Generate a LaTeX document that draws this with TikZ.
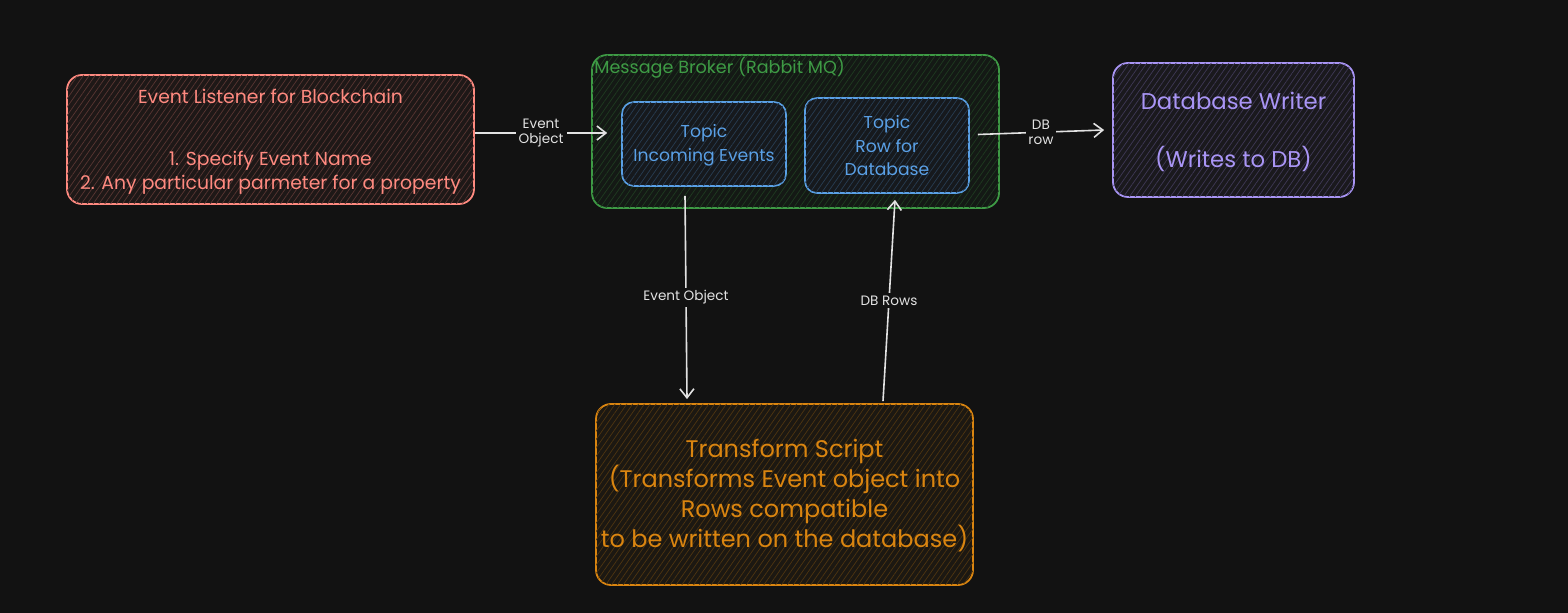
\documentclass[tikz,border=0pt]{standalone}
\usepackage{fontspec}
\setmainfont{Poppins}
\usetikzlibrary{arrows.meta,patterns.meta}
\definecolor{bg}{HTML}{121212}
\definecolor{cred}{HTML}{FF8A80}
\definecolor{cgreen}{HTML}{3E9B45}
\definecolor{cblue}{HTML}{5AA0E6}
\definecolor{cpurple}{HTML}{A995F5}
\definecolor{corange}{HTML}{DA8510}
\definecolor{carrow}{HTML}{E2E2E2}
\tikzset{
  box/.style={draw=#1, line width=0.9pt, rounded corners=7.5pt, inner sep=0pt,
    fill=#1!5!bg,
    postaction={pattern={Lines[angle=55,distance=2.4pt,line width=0.35pt]}, pattern color=#1!30!bg}},
  tbox/.style={draw=#1, line width=0.8pt, rounded corners=6pt, inner sep=0pt,
    fill=#1!5!bg,
    postaction={pattern={Lines[angle=55,distance=2.4pt,line width=0.35pt]}, pattern color=#1!30!bg}},
  txt/.style={text=#1, align=center, inner sep=0pt},
  conn/.style={draw=carrow, line width=0.8pt, -{Straight Barb[length=4.5pt,width=7pt,line width=0.8pt]}},
  lbl/.style={text=carrow, fill=bg, inner sep=1.5pt, align=center, font=\fontsize{6.8}{7.5}\selectfont},
}
\begin{document}
\begin{tikzpicture}[x=0.5pt,y=-0.5pt]
\useasboundingbox[fill=bg] (0,0) rectangle (1568,613);
% boxes
\node[box=cred, minimum width=203.5pt, minimum height=64.5pt] (red) at (270.5,139.5) {};
\node[box=cgreen, minimum width=203.5pt, minimum height=76.5pt] (broker) at (795.5,131.5) {};
\node[tbox=cblue, minimum width=82pt, minimum height=42pt] (topic1) at (704,144) {};
\node[tbox=cblue, minimum width=82pt, minimum height=47.5pt] (topic2) at (887,145.5) {};
\node[box=cpurple, minimum width=120.5pt, minimum height=67pt] (writer) at (1233.5,130) {};
\node[box=corange, minimum width=188.5pt, minimum height=90.5pt] (transform) at (784.5,494.5) {};
% texts
\node[txt=cred, font=\fontsize{9.4}{12}\selectfont] (redtitle) at (270.5,96) {Event Listener for Blockchain};
\node[txt=cred, font=\fontsize{9.4}{12}\selectfont] (redbody) at (270.5,173) {1. Specify Event Name\\2. Any particular parmeter for a property};
\node[txt=cgreen, font=\fontsize{8.8}{10}\selectfont, anchor=west] (brokertitle) at (594,68) {Message Broker (Rabbit MQ)};
\node[txt=cblue, font=\fontsize{8.6}{12}\selectfont] (t1text) at (704,145) {Topic\\Incoming Events};
\node[txt=cblue, font=\fontsize{8.6}{11.75}\selectfont] (t2text) at (887,146) {Topic\\Row for\\Database};
\node[txt=cpurple, font=\fontsize{11.4}{12}\selectfont] (w1) at (1233.5,101) {Database Writer};
\node[txt=cpurple, font=\fontsize{11.4}{12}\selectfont] (w2) at (1233.5,159) {(Writes to DB)};
\node[txt=corange, font=\fontsize{12}{15}\selectfont] (ttext) at (784.5,496) {Transform Script\\(Transforms Event object into\\Rows compatible\\to be written on the database)};
% connectors
\draw[conn] ([yshift=3.25pt]red.east) -- node[lbl] (l1) {Event\\Object} ([xshift=-7pt,yshift=5.5pt]topic1.west);
\draw[conn] ([xshift=4pt,yshift=5.5pt]topic2.east) -- node[lbl] (l2) {DB\\row} ([xshift=-4pt]writer.west);
\draw[conn] ([xshift=-9.5pt,yshift=-4.5pt]topic1.south) -- node[lbl] (l3) {Event Object} ([xshift=-48.75pt,yshift=2pt]transform.north);
\draw[conn] ([xshift=49.25pt,yshift=1pt]transform.north) -- node[lbl] (l4) {DB Rows} ([xshift=4pt,yshift=-3pt]topic2.south);
\end{tikzpicture}
\end{document}
